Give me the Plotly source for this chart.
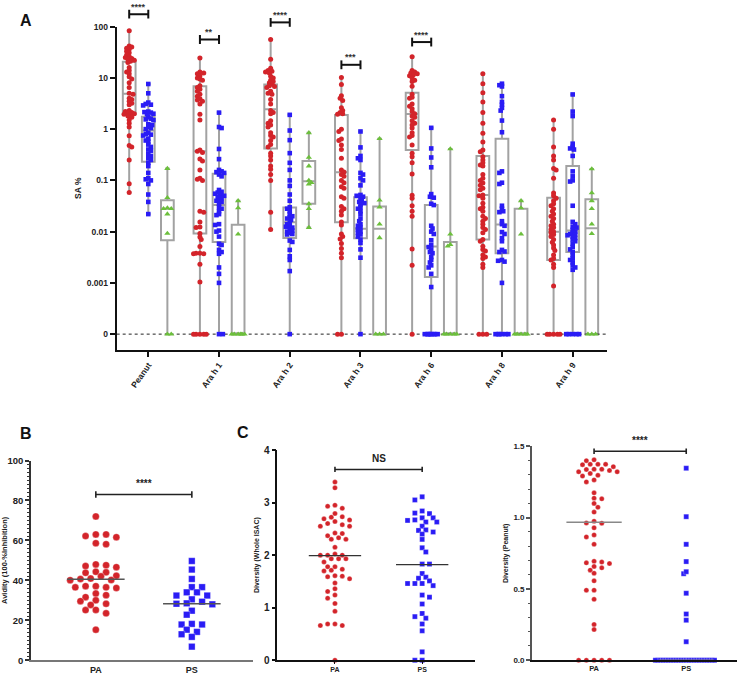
import numpy as np
import plotly.graph_objects as go

W, H = 739, 680
GROUPS = ["Peanut", "Ara h 1", "Ara h 2", "Ara h 3", "Ara h 6", "Ara h 8", "Ara h 9"]

# ---------------- Panel A data (SA %) ----------------
red_peanut = [83, 42, 40, 38, 36, 33, 31, 28, 26, 25, 24, 23, 22, 21, 20, 16, 14, 13, 12, 10.5, 9.5, 8, 6.5, 5,
              4.8, 4.0, 3.8, 3.5, 3.2, 3.0, 2.3, 2.2, 2.1, 2.05, 2.0, 1.95, 1.9, 1.8, 1.7, 1.5, 1.3, 1.1, 0.74,
              0.48, 0.45, 0.25, 0.086, 0.058]
red_arah1 = [24.5, 13, 12.5, 12, 11, 10, 9.5, 9, 7, 6.5, 6, 5.5, 4.8, 4.4, 3.9, 3.7, 3.5, 3.1, 1.95, 1.5, 0.39,
             0.37, 0.35, 0.26, 0.24, 0.16, 0.11, 0.105, 0.1, 0.025, 0.024, 0.0155, 0.0123, 0.012, 0.0092, 0.0079,
             0.007, 0.0051, 0.0038, 0.0038, 0.0037, 0.0037, 0.0023, 0.00104, 0, 0, 0, 0, 0]
red_arah2 = [56, 23, 15.5, 14, 13.5, 13, 12.5, 10.8, 10, 9, 8.5, 8, 7.5, 7, 6.8, 6.5, 5.5, 5, 4.8, 3.8, 3.1, 2.3,
             2.1, 2.0, 1.45, 1.3, 1.2, 1.1, 0.85, 0.75, 0.7, 0.6, 0.5, 0.45, 0.34, 0.3, 0.25, 0.19, 0.165, 0.13,
             0.1, 0.024, 0.011]
red_arah3 = [10.2, 7.4, 4.5, 4.0, 3.6, 2.6, 2.3, 2.1, 2.0, 1.95, 1.0, 0.9, 0.64, 0.6, 0.49, 0.4, 0.27, 0.16, 0.145,
             0.13, 0.12, 0.1, 0.09, 0.075, 0.07, 0.048, 0.045, 0.031, 0.028, 0.025, 0.021, 0.0155, 0.0135, 0.009,
             0.008, 0.0072, 0.0059, 0.0047, 0.0038, 0.0031, 0, 0]
red_arah6 = [25.8, 14, 13, 12.5, 12, 11.5, 11, 10, 9, 8.5, 6.9, 4.8, 4.2, 4.0, 3.1, 2.8, 2.5, 2.2, 2.0, 1.8, 1.7,
             1.45, 1.3, 1.2, 1.05, 0.85, 0.75, 0.7, 0.49, 0.34, 0.29, 0.22, 0.133, 0.051, 0.045, 0.032, 0.025,
             0.02, 0.0046, 0.0022, 0]
red_arah8 = [12, 7.7, 5.1, 3.4, 2.1, 1.3, 0.83, 0.56, 0.39, 0.36, 0.29, 0.25, 0.22, 0.2, 0.19, 0.13, 0.11, 0.1,
             0.089, 0.08, 0.07, 0.066, 0.052, 0.05, 0.045, 0.036, 0.03, 0.028, 0.025, 0.02, 0.018, 0.016, 0.014,
             0.012, 0.011, 0.0095, 0.007, 0.0065, 0.0052, 0.0045, 0.0042, 0.0035, 0.0032, 0.003, 0.0023, 0.002,
             0, 0, 0]
red_arah9 = [1.5, 1.0, 0.45, 0.3, 0.25, 0.17, 0.16, 0.11, 0.057, 0.05, 0.045, 0.04, 0.035, 0.032, 0.028, 0.025,
             0.022, 0.02, 0.018, 0.016, 0.014, 0.013, 0.012, 0.011, 0.01, 0.0095, 0.0088, 0.008, 0.007, 0.0062,
             0.0055, 0.0048, 0.0043, 0.0035, 0.003, 0.0028, 0.0023, 0.002, 0.00087, 0, 0, 0, 0, 0]

blue_peanut = [7.6, 5.0, 3.3, 3.1, 3.0, 2.9, 2.2, 2.15, 2.1, 2.0, 1.95, 1.7, 1.6, 1.55, 1.5, 1.25, 1.2, 1.1, 1.05,
               1.0, 0.85, 0.8, 0.78, 0.75, 0.65, 0.6, 0.57, 0.5, 0.45, 0.4, 0.38, 0.33, 0.3, 0.27, 0.25, 0.22,
               0.19, 0.14, 0.11, 0.105, 0.1, 0.085, 0.053, 0.038, 0.022]
blue_arah1 = [2.1, 1.1, 1.05, 0.41, 0.26, 0.16, 0.15, 0.145, 0.14, 0.13, 0.12, 0.065, 0.06, 0.058, 0.055, 0.052,
              0.05, 0.047, 0.045, 0.042, 0.04, 0.038, 0.035, 0.03, 0.028, 0.025, 0.022, 0.021, 0.014, 0.0135,
              0.0105, 0.01, 0.008, 0.0058, 0.0055, 0.0044, 0.004, 0.0037, 0.002, 0.0015, 0.001, 0, 0]
blue_arah2 = [1.9, 0.94, 0.61, 0.34, 0.22, 0.16, 0.1, 0.078, 0.053, 0.04, 0.03, 0.028, 0.025, 0.022, 0.02, 0.019,
              0.018, 0.017, 0.015, 0.014, 0.013, 0.0125, 0.012, 0.011, 0.0105, 0.01, 0.0095, 0.009, 0.0088,
              0.0067, 0.0063, 0.0044, 0.0033, 0.0028, 0.0017, 0]
blue_arah3 = [0.9, 0.44, 0.3, 0.27, 0.25, 0.14, 0.13, 0.11, 0.1, 0.08, 0.052, 0.05, 0.048, 0.045, 0.04, 0.038,
              0.036, 0.034, 0.03, 0.028, 0.025, 0.022, 0.018, 0.016, 0.014, 0.013, 0.012, 0.011, 0.01, 0.0095,
              0.0088, 0.008, 0.007, 0.006, 0.0045, 0.0031, 0]
blue_arah6 = [1.06, 0.42, 0.28, 0.18, 0.054, 0.048, 0.046, 0.035, 0.033, 0.013, 0.0115, 0.01, 0.009, 0.0068,
              0.0055, 0.005, 0.0045, 0.004, 0.0038, 0.0032, 0.0028, 0.0025, 0.0022, 0.002, 0.0015, 0.00083,
              0, 0, 0, 0, 0, 0, 0, 0]
blue_arah8 = [7.7, 7.2, 6.8, 4.4, 3.4, 3.0, 2.6, 2.3, 1.47, 0.87, 0.15, 0.14, 0.09, 0.085, 0.032, 0.028, 0.025,
              0.024, 0.016, 0.014, 0.013, 0.0098, 0.009, 0.0075, 0.0065, 0.0044, 0.0041, 0.004, 0.0028, 0.0027,
              0.0026, 0.001, 0, 0, 0, 0, 0, 0]
blue_arah9 = [4.75, 2.2, 1.8, 0.52, 0.45, 0.42, 0.4, 0.3, 0.15, 0.12, 0.1, 0.095, 0.032, 0.0155, 0.014, 0.0125,
              0.012, 0.0108, 0.01, 0.0095, 0.009, 0.0088, 0.0085, 0.008, 0.0075, 0.007, 0.0065, 0.0058, 0.005,
              0.0045, 0.004, 0.0035, 0.003, 0.0028, 0.0025, 0.0022, 0.002, 0.0018, 0, 0, 0, 0, 0]

green_peanut = [0.17, 0.046, 0.029, 0.028, 0.028, 0.022, 0.0092, 0, 0]
green_arah1 = [0.04, 0.029, 0.0089, 0, 0, 0, 0, 0, 0]
green_arah2 = [0.85, 0.28, 0.19, 0.1, 0.09, 0.085, 0.035, 0.028, 0.012]
green_arah3 = [0.65, 0.041, 0.03, 0.014, 0.0076, 0, 0, 0]
green_arah6 = [0.41, 0.0089, 0.0056, 0.0052, 0, 0, 0, 0, 0]
green_arah8 = [0.04, 0.029, 0.0089, 0, 0, 0, 0, 0]
green_arah9 = [0.167, 0.057, 0.04, 0.028, 0.014, 0.0091, 0, 0, 0]

# box statistics (min / q1 / median / q3 / max)
red_q1 = [1.97, 0.0092, 0.42, 0.0153, 0.39, 0.007, 0.0028]
red_med = [4.9, 0.37, 2.45, 0.144, 1.97, 0.052, 0.0099]
red_q3 = [20.7, 6.9, 7.4, 1.88, 5.1, 0.3, 0.046]
red_min = [0.058, 0, 0.011, 0, 0, 0, 0]
red_max = [83, 24.7, 56, 10.2, 25.8, 12, 1.5]

blue_q1 = [0.23, 0.0063, 0.0075, 0.0074, 0.0013, 0.0038, 0.004]
blue_med = [0.94, 0.033, 0.0153, 0.0114, 0.0051, 0.0138, 0.0105]
blue_q3 = [1.75, 0.135, 0.0297, 0.047, 0.033, 0.65, 0.19]
blue_min = [0.022, 0, 0, 0, 0, 0, 0]
blue_max = [7.6, 2.1, 1.9, 0.9, 1.06, 7.7, 4.75]

green_q1 = [0.0068, 0, 0.035, 0, 0, 0, 0]
green_med = [0.028, 0, 0.096, 0.0114, 0, 0, 0.0116]
green_q3 = [0.041, 0.0136, 0.24, 0.031, 0.0063, 0.028, 0.043]
green_min = [0, 0, 0.012, 0, 0, 0, 0]
green_max = [0.17, 0.04, 0.85, 0.65, 0.41, 0.04, 0.167]

# significance brackets (group index, label, SA% level)
sig_group = [0, 1, 2, 3, 4]
sig_label = ["****", "**", "****", "***", "****"]
sig_level = [175, 56, 121, 18, 50]

# ---------------- Panel B data (Avidity) ----------------
avid_PA = [72, 62.2, 63, 63, 61.6, 58.1, 58.6, 47.6, 47.2, 48, 46.6, 44.3, 44, 42.3, 42, 43.8, 40.7, 40.2, 40.9,
           40.1, 37.1, 36.2, 37.1, 36.5, 36.5, 32.6, 33.4, 31.6, 30, 28.3, 29.6, 27.7, 25.1, 23.5, 25.2, 15.3]
avid_PS = [49.7, 45.4, 40.7, 36.6, 36.6, 34, 34, 32.4, 32.4, 30.5, 28, 28.5, 28.3, 29.3, 24.8, 22.8, 18.2, 17.9,
           17.9, 14.2, 15.3, 13, 11.7, 6.8]
avid_median = [40.6, 28.3]

# ---------------- Panel C data (Diversity) ----------------
div_whole_PA = [3.39, 3.28, 2.95, 2.93, 2.89, 2.79, 2.72, 2.73, 2.64, 2.67, 2.69, 2.58, 2.55, 2.55, 2.6, 2.42,
                2.37, 2.41, 2.30, 2.30, 2.33, 2.15, 2.02, 2.0, 2.0, 2.0, 1.93, 1.93, 1.93, 1.87, 1.78, 1.78, 1.73,
                1.71, 1.70, 1.61, 1.59, 1.55, 1.60, 1.47, 1.36, 1.31, 1.24, 1.18, 1.08, 0.93, 0.69, 0.66, 0.66,
                0.69, 0.0]
div_whole_PS = [3.11, 3.05, 2.84, 2.67, 2.66, 2.80, 2.79, 2.71, 2.71, 2.63, 2.63, 2.55, 2.48, 2.47, 2.44, 2.40,
                2.30, 2.14, 2.06, 1.83, 1.83, 1.65, 1.58, 1.56, 1.51, 1.46, 1.46, 1.46, 1.42, 1.24, 1.20, 1.07,
                0.89, 0.83, 0.80, 0.69, 0.56, 0.16, 0.0, 0.0]
div_whole_median = [1.99, 1.82]

div_pn_PA = [1.374, 1.406, 1.40, 1.374, 1.372, 1.374, 1.358, 1.322, 1.34, 1.322, 1.338, 1.34, 1.331, 1.31, 1.297,
             1.292, 1.251, 1.265, 1.174, 1.132, 1.137, 1.10, 1.073, 1.039, 0.963, 0.961, 0.975, 0.929, 0.879,
             0.865, 0.813, 0.694, 0.689, 0.678, 0.683, 0.658, 0.648, 0.632, 0.61, 0.557, 0.491, 0.491, 0.427,
             0.251, 0.215, 0, 0, 0, 0, 0]
div_pn_PS = [1.347, 1.007, 0.813, 0.692, 0.607, 0.621, 0.47, 0.324, 0.281, 0.13] + [0] * 24
div_pn_median = [0.968, 0.0]

# ---------------- styling ----------------
RED = "#d3242a"
BLUE = "#2a1cf5"
GREEN = "#6cbf3c"
BOXC = "#a2a2a2"
FONT = "Liberation Sans, Arial, sans-serif"
NARROW = "Liberation Sans Narrow, Liberation Sans, Arial, sans-serif"
ZERO_POS = 1e-4  # where "0" is drawn on the log axis


def swarm(ypx, dmin, step, maxoff=1e9, maxk=80):
    ypx = np.asarray(ypx, float)
    order = np.argsort(-ypx, kind="stable")
    offs = np.zeros(len(ypx))
    placed = []
    tol = dmin * 0.999
    for n, i in enumerate(order):
        y = ypx[i]
        near = [(py, px) for py, px in placed if abs(py - y) < dmin]
        cands = [0.0]
        for k in range(1, maxk):
            if k * step > maxoff:
                break
            s = 1 if n % 2 == 0 else -1
            cands += [s * k * step, -s * k * step]
        best, bestd = 0.0, -1.0
        for c in cands:
            d = min([np.hypot(c - px, y - py) for py, px in near], default=1e9)
            if d >= tol:
                best = c
                break
            if d > bestd:
                best, bestd = c, d
        offs[i] = best
        placed.append((y, best))
    return offs


def zmap(v):
    return [ZERO_POS if x == 0 else x for x in v]


# Panel A geometry (pixels)
A_px = (109, 605)
A_py = (350, 21)
A_xr = [-0.447, 6.48]
A_yr = [-4.306, 2.0]
A_dom_x = [A_px[0] / W, A_px[1] / W]
A_dom_y = [1 - A_py[0] / H, 1 - A_py[1] / H]
A_xscale = (A_px[1] - A_px[0]) / (A_xr[1] - A_xr[0])
A_yscale = (A_py[0] - A_py[1]) / (A_yr[1] - A_yr[0])

fig = go.Figure()

# zero dotted line
fig.add_trace(go.Scatter(x=A_xr, y=[ZERO_POS, ZERO_POS], mode="lines",
                         line=dict(color="#222", width=1, dash="dot"),
                         xaxis="x", yaxis="y", hoverinfo="skip", showlegend=False))

series = [
    (-0.27, RED, "circle", 5, [red_peanut, red_arah1, red_arah2, red_arah3, red_arah6, red_arah8, red_arah9],
     red_q1, red_med, red_q3, red_min, red_max),
    (0.0, BLUE, "square", 4.6, [blue_peanut, blue_arah1, blue_arah2, blue_arah3, blue_arah6, blue_arah8, blue_arah9],
     blue_q1, blue_med, blue_q3, blue_min, blue_max),
    (0.27, GREEN, "triangle-up", 5.5, [green_peanut, green_arah1, green_arah2, green_arah3, green_arah6, green_arah8,
                                      green_arah9],
     green_q1, green_med, green_q3, green_min, green_max),
]

for off, col, sym, size, pts, q1, med, q3, lo, hi in series:
    xs = [i + off for i in range(len(GROUPS))]
    fig.add_trace(go.Box(x=xs, q1=zmap(q1), median=zmap(med), q3=zmap(q3),
                         lowerfence=zmap(lo), upperfence=zmap(hi), orientation="v",
                         width=0.18, whiskerwidth=0.35, boxpoints=False,
                         line=dict(color=BOXC, width=2), fillcolor="rgba(255,255,255,0)",
                         xaxis="x", yaxis="y", hoverinfo="skip", showlegend=False))

for off, col, sym, size, pts, q1, med, q3, lo, hi in series:
    X, Y = [], []
    for i, vals in enumerate(pts):
        yv = np.array(zmap(vals), float)
        ypx = np.log10(yv) * A_yscale
        o = swarm(ypx, 2.8, 1.3, maxoff=6.5) / A_xscale
        X.extend(list(i + off + o))
        Y.extend(list(yv))
    fig.add_trace(go.Scatter(x=X, y=Y, mode="markers",
                             marker=dict(color=col, symbol=sym, size=size, line=dict(width=0)),
                             xaxis="x", yaxis="y", hoverinfo="skip", showlegend=False, cliponaxis=False))


def a_paper(v):
    return A_dom_y[0] + (np.log10(v) - A_yr[0]) / (A_yr[1] - A_yr[0]) * (A_dom_y[1] - A_dom_y[0])


shapes = []
annotations = []
cap = 4.5 / H
for g, lab, lev in zip(sig_group, sig_label, sig_level):
    yp = a_paper(lev)
    x0, x1 = g - 0.27, g + 0.0
    shapes.append(dict(type="line", xref="x", yref="paper", x0=x0, x1=x1, y0=yp, y1=yp,
                       line=dict(color="#111", width=2)))
    for xx in (x0, x1):
        shapes.append(dict(type="line", xref="x", yref="paper", x0=xx, x1=xx, y0=yp - cap, y1=yp + cap,
                           line=dict(color="#111", width=2)))
    annotations.append(dict(text=lab, xref="x", yref="paper", x=(x0 + x1) / 2, y=yp + 0.5 / H,
                            yanchor="bottom", showarrow=False,
                            font=dict(family=FONT, size=9, color="#333", weight="bold")))


# ---------------- Panels B, C ----------------
def add_dot_panel(xa, ya, vals_list, cols, syms, sizes, medians, med_col, med_w, yscale, xscale, dmins, steps,
                  bracket, cap_h, blabel):
    for i, (vals, col, sym, sz, dm, st) in enumerate(zip(vals_list, cols, syms, sizes, dmins, steps)):
        v = np.array(vals, float)
        o = swarm(v * yscale, dm, st) / xscale
        fig.add_trace(go.Scatter(x=list(i + o), y=list(v), mode="markers",
                                 marker=dict(color=col, symbol=sym, size=sz,
                                             line=dict(width=0.8, color="rgba(255,255,255,0.35)")),
                                 xaxis=xa, yaxis=ya, hoverinfo="skip", showlegend=False, cliponaxis=False))
    for i, m in enumerate(medians):
        fig.add_trace(go.Scatter(x=[i - 0.3, i + 0.3], y=[m, m], mode="lines",
                                 line=dict(color=med_col, width=med_w),
                                 xaxis=xa, yaxis=ya, hoverinfo="skip", showlegend=False, cliponaxis=False))
    bx = [0, 1, None, 0, 0, None, 1, 1]
    by = [bracket, bracket, None, bracket - cap_h, bracket + cap_h, None, bracket - cap_h, bracket + cap_h]
    fig.add_trace(go.Scatter(x=bx, y=by, mode="lines", line=dict(color="#222", width=1.6),
                             xaxis=xa, yaxis=ya, hoverinfo="skip", showlegend=False))
    annotations.append(dict(text=blabel, xref=xa, yref=ya, x=0.5, y=bracket + cap_h * 1.2, yanchor="bottom",
                            showarrow=False, font=dict(family=FONT, size=10, color="#222", weight="bold")))


# B
add_dot_panel("x2", "y2", [avid_PA, avid_PS], [RED, BLUE], ["circle", "square"], [7, 6.5], avid_median,
              "#555", 1.5, 2.047, 97.3, [6.5, 6.5], [5.2, 5.2], 83, 1.6, "****")
# C left
add_dot_panel("x3", "y3", [div_whole_PA, div_whole_PS], [RED, BLUE], ["circle", "square"], [5, 5],
              div_whole_median, "#333", 1.2, 53.8, 88.3, [5, 5], [3.7, 3.7], 3.63, 0.05, "NS")
# C right
add_dot_panel("x4", "y4", [div_pn_PA, div_pn_PS], [RED, BLUE], ["circle", "square"], [5, 5],
              div_pn_median, "#888", 1.5, 146.0, 93.3, [5, 2.6], [3.9, 2.6], 1.466, 0.02, "****")

# panel letters
for lab, px, py in (("A", 17, 15), ("B", 17, 435), ("C", 237, 434)):
    annotations.append(dict(text=lab, xref="paper", yref="paper", x=px / W, y=1 - py / H, showarrow=False,
                            xanchor="center", yanchor="middle",
                            font=dict(family=FONT, size=16, color="#111", weight="bold")))

tickf = dict(family=FONT, size=8.5, color="#222", weight="bold")
BOT = 1 - 666 / H

fig.update_layout(
    width=W, height=H, margin=dict(l=0, r=0, t=0, b=0, pad=0),
    paper_bgcolor="white", plot_bgcolor="white", showlegend=False,
    shapes=shapes, annotations=annotations,
    xaxis=dict(domain=A_dom_x, range=A_xr, anchor="y", tickmode="array", tickvals=list(range(len(GROUPS))),
               ticktext=GROUPS, tickangle=-55, showline=True, linecolor="#111", linewidth=2, ticks="outside",
               ticklen=5, tickwidth=1.5, tickcolor="#111", showgrid=False, zeroline=False, tickfont=tickf),
    yaxis=dict(domain=A_dom_y, type="log", range=A_yr, anchor="x", tickmode="array",
               tickvals=[1e-4, 1e-3, 1e-2, 0.1, 1, 10, 100],
               ticktext=["0", "0.001", "0.01", "0.1", "1", "10", "100"],
               showline=True, linecolor="#111", linewidth=2, ticks="outside", ticklen=5, tickwidth=1.5,
               tickcolor="#111", showgrid=False, zeroline=False, tickfont=tickf,
               title=dict(text="SA %", standoff=4, font=dict(family=FONT, size=8.5, color="#222", weight="bold"))),
    xaxis2=dict(domain=[22.3 / W, 247 / W], range=[-0.675, 1.637], anchor="y2", tickmode="array",
                tickvals=[0, 1], ticktext=["PA", "PS"], showline=True, linecolor="#777", linewidth=2,
                ticks="", ticklen=0, showgrid=False, zeroline=False,
                tickfont=dict(family=NARROW, size=9, color="#222", weight="bold")),
    yaxis2=dict(domain=[BOT, 1 - 462.7 / H], range=[0, 100], anchor="x2", dtick=20,
                showline=True, linecolor="#333", linewidth=1.5, ticks="outside", ticklen=4, tickwidth=1.5,
                tickcolor="#333", showgrid=False, zeroline=False,
                minor=dict(dtick=2, ticks="outside", ticklen=2, tickwidth=1, tickcolor="#333", showgrid=False),
                tickfont=dict(family=NARROW, size=9.5, color="#222", weight="bold"),
                title=dict(text="Avidity (100-%Inhibition)", standoff=2,
                           font=dict(family=NARROW, size=7.5, color="#222", weight="bold"))),
    xaxis3=dict(domain=[271.7 / W, 471.7 / W], range=[-0.66, 1.605], anchor="y3", tickmode="array",
                tickvals=[0, 1], ticktext=["PA", "PS"], showline=True, linecolor="#111", linewidth=1.5,
                ticks="outside", ticklen=2, tickwidth=1, tickcolor="#111", showgrid=False, zeroline=False,
                tickfont=dict(family=FONT, size=7, color="#222", weight="bold")),
    yaxis3=dict(domain=[BOT, 1 - 452 / H], range=[0, 4], anchor="x3", dtick=1,
                showline=True, linecolor="#111", linewidth=1.5, ticks="outside", ticklen=4, tickwidth=1.5,
                tickcolor="#111", showgrid=False, zeroline=False,
                tickfont=dict(family=FONT, size=10, color="#222", weight="bold"),
                title=dict(text="Diversity (Whole ISAC)", standoff=4,
                           font=dict(family=FONT, size=7, color="#222", weight="bold"))),
    xaxis4=dict(domain=[529.3 / W, 736.7 / W], range=[-0.675, 1.548], anchor="y4", tickmode="array",
                tickvals=[0, 1], ticktext=["PA", "PS"], showline=True, linecolor="#111", linewidth=1.5,
                ticks="", ticklen=0, showgrid=False, zeroline=False,
                tickfont=dict(family=FONT, size=7.5, color="#222", weight="bold")),
    yaxis4=dict(domain=[BOT, 1 - 448.3 / H], range=[0, 1.5], anchor="x4", dtick=0.5,
                tickformat=".1f", showline=True, linecolor="#555", linewidth=1.5, ticks="outside", ticklen=4,
                tickwidth=1.5, tickcolor="#555", showgrid=False, zeroline=False,
                minor=dict(dtick=0.1, ticks="outside", ticklen=2.5, tickwidth=1, tickcolor="#555",
                           showgrid=False),
                tickfont=dict(family=FONT, size=8, color="#222", weight="bold"),
                title=dict(text="Diversity (Peanut)", standoff=4,
                           font=dict(family=FONT, size=7, color="#222", weight="bold"))),
)

fig.write_html("out.html", config={"displayModeBar": False},
               post_script="document.body.style.margin='0';document.body.style.overflow='hidden';")
